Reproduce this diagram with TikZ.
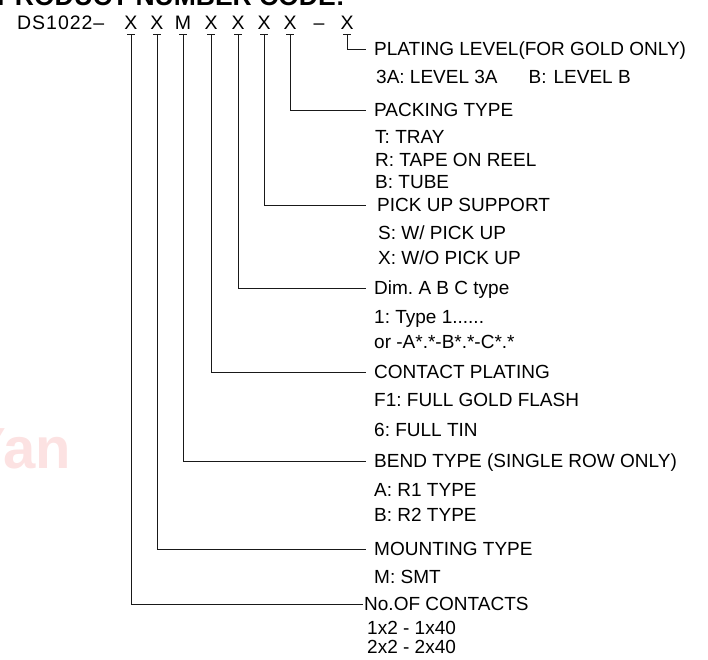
\documentclass[tikz,border=0pt]{standalone}
\usepackage{fontspec}
\setmainfont{Liberation Sans}
\definecolor{wmpink}{RGB}{252,226,226}
\frenchspacing

\begin{document}
\begin{tikzpicture}
                [
                    x=1pt, y=-1pt,
                    codechar/.style={inner sep=0pt, outer ysep=5pt, text height=14pt, text depth=0pt, font=\fontsize{19.5}{20}\selectfont},
                    heading/.style={anchor=west, inner ysep=0pt, inner xsep=8pt, text height=13.5pt, text depth=0pt, font=\fontsize{19}{20}\selectfont},
                    option/.style={anchor=west, inner sep=0pt, text height=13.5pt, text depth=0pt, font=\fontsize{19}{20}\selectfont},
                    leader/.style={draw=black!90, line width=0.9pt}
                ]
                \useasboundingbox (0,0) rectangle (708,659);

                % cut-off title and watermark
                \node [anchor=base west, inner sep=0pt, font=\bfseries\fontsize{26.5}{26.5}\selectfont] (title) at (-3,5) {PRODUCT NUMBER CODE:};
                \node [anchor=base east, inner sep=0pt, text=wmpink, font=\bfseries\fontsize{58}{58}\selectfont] (wm) at (71,468) {Yan};

                % part number
                \node [codechar, anchor=west] (prefix) at (17,22) {\addfontfeatures{LetterSpace=5}DS1022--};
                \node [codechar] (c1) at (131,22) {X};
                \node [codechar] (c2) at (157,22) {X};
                \node [codechar] (c3) at (183,22) {M};
                \node [codechar] (c4) at (211,22) {X};
                \node [codechar] (c5) at (238,22) {X};
                \node [codechar] (c6) at (264,22) {X};
                \node [codechar] (c7) at (290,22) {X};
                \node [codechar] (dash) at (319,22) {--};
                \node [codechar] (c8) at (347,22) {X};

                % headings
                \node [heading] (plating) at (366,49) {PLATING LEVEL(FOR GOLD ONLY)};
                \node [heading] (packing) at (366,110) {PACKING TYPE};
                \node [heading, inner xsep=11pt] (pickup) at (366,205) {PICK UP SUPPORT};
                \node [heading] (dim) at (366,288) {Dim. A B C type};
                \node [heading] (contact) at (366,372) {CONTACT PLATING};
                \node [heading] (bend) at (366,461) {BEND TYPE (SINGLE ROW ONLY)};
                \node [heading] (mounting) at (366,549) {MOUNTING TYPE};
                \node [heading, inner xsep=1pt] (count) at (363,604) {No.OF CONTACTS};

                % options
                \node [option] (lvl) at (376,77) {3A: LEVEL 3A\hspace{31pt}B:\hspace{7pt}LEVEL B};
                \node [option] (tray) at (375,137) {T: TRAY};
                \node [option] (reel) at (375,160) {R: TAPE ON REEL};
                \node [option] (tube) at (375,182) {B: TUBE};
                \node [option] (withpu) at (378,233) {S: W/ PICK UP};
                \node [option] (nopu) at (378,258) {X: W/O PICK UP};
                \node [option] (type1) at (374,317) {1: Type 1......};
                \node [option] (abc) at (374,342) {or -A*.*-B*.*-C*.*};
                \node [option] (gold) at (374,400) {F1: FULL GOLD FLASH};
                \node [option] (tin) at (374,430) {6: FULL TIN};
                \node [option] (rone) at (374,490) {A: R1 TYPE};
                \node [option] (rtwo) at (374,515) {B: R2 TYPE};
                \node [option] (smt) at (374,577) {M: SMT};
                \node [option] (single) at (367,628) {1x2 - 1x40};
                \node [option] (dual) at (367,647) {2x2 - 2x40};

                % ticks under the code letters
                \draw [leader] ([xshift=-4pt]c1.south) -- ([xshift=4pt]c1.south);
                \draw [leader] ([xshift=-4pt]c2.south) -- ([xshift=4pt]c2.south);
                \draw [leader] ([xshift=-4pt]c3.south) -- ([xshift=4pt]c3.south);
                \draw [leader] ([xshift=-4pt]c4.south) -- ([xshift=4pt]c4.south);
                \draw [leader] ([xshift=-4pt]c5.south) -- ([xshift=4pt]c5.south);
                \draw [leader] ([xshift=-4pt]c6.south) -- ([xshift=4pt]c6.south);
                \draw [leader] ([xshift=-4pt]c7.south) -- ([xshift=4pt]c7.south);
                \draw [leader] ([xshift=-4pt]c8.south) -- ([xshift=4pt]c8.south);

                % leaders
                \draw [leader] (c1.south) |- (count.west);
                \draw [leader] (c2.south) |- (mounting.west);
                \draw [leader] (c3.south) |- (bend.west);
                \draw [leader] (c4.south) |- (contact.west);
                \draw [leader] (c5.south) |- (dim.west);
                \draw [leader] (c6.south) |- (pickup.west);
                \draw [leader] (c7.south) |- (packing.west);
                \draw [leader] (c8.south) |- (plating.west);

            \end{tikzpicture}
\end{document}
